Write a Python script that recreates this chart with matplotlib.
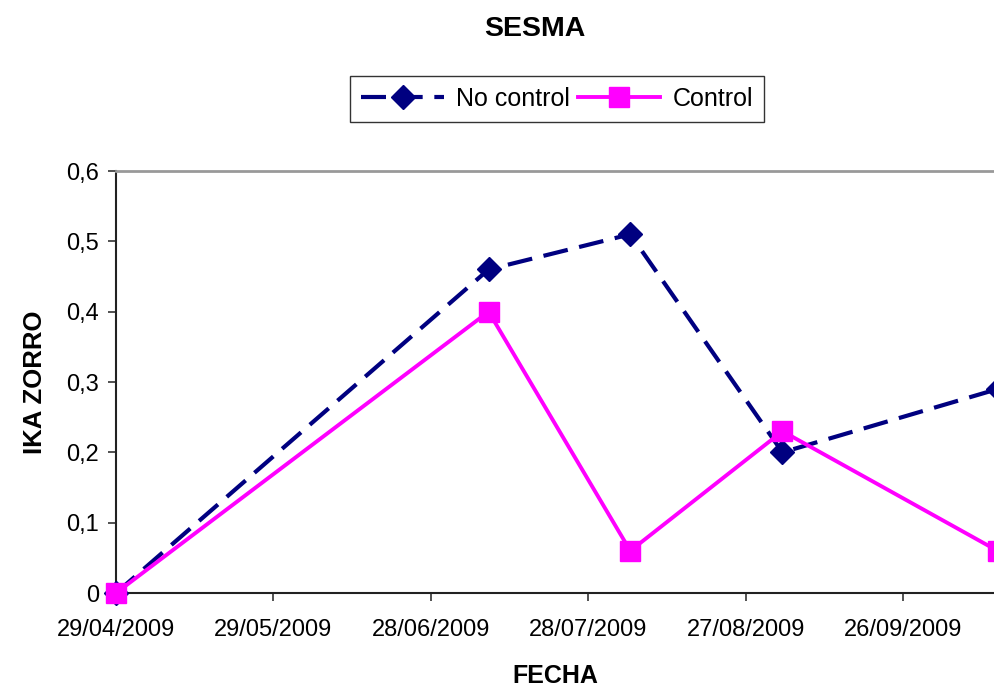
import matplotlib
matplotlib.use("Agg")
import matplotlib.pyplot as plt
from datetime import datetime, timedelta

plt.rcParams['font.family'] = ['Liberation Sans', 'DejaVu Sans']

# Survey dates and fox kilometric abundance index (IKA)
fechas = ["29/04/2009", "09/07/2009", "05/08/2009", "03/09/2009", "14/10/2009"]
no_control = [0.0, 0.46, 0.51, 0.20, 0.29]
control = [0.0, 0.40, 0.06, 0.23, 0.06]

tick_labels = ["29/04/2009", "29/05/2009", "28/06/2009",
               "28/07/2009", "27/08/2009", "26/09/2009"]
y_ticks = [0, 0.1, 0.2, 0.3, 0.4, 0.5, 0.6]
y_labels = ["0", "0,1", "0,2", "0,3", "0,4", "0,5", "0,6"]

dates = [datetime.strptime(d, "%d/%m/%Y") for d in fechas]
tick_dates = [datetime.strptime(d, "%d/%m/%Y") for d in tick_labels]

fig = plt.figure(figsize=(9.95, 6.89), dpi=100)
ax = fig.add_axes([0.1166, 0.1393, 0.8834, 0.6125])

ax.plot(dates, no_control, color="#000080", lw=3.0, dashes=(6, 2.8),
        marker="D", ms=12, mfc="#000080", mec="#000080", label="No control",
        zorder=3, clip_on=False)
ax.plot(dates, control, color="#FF00FF", lw=2.8,
        marker="s", ms=14, mfc="#FF00FF", mec="#FF00FF", label="Control",
        zorder=4, clip_on=False)

x0 = tick_dates[0]
ax.set_xlim(x0, x0 + timedelta(days=167.5))
ax.set_ylim(0, 0.6)
ax.set_xticks(tick_dates)
ax.set_xticklabels(tick_labels)
ax.set_yticks(y_ticks)
ax.set_yticklabels(y_labels)

ax.tick_params(axis="both", labelsize=17, direction="out", length=6,
               width=1.2, color="#333333")
ax.tick_params(axis="x", pad=13)
ax.tick_params(axis="y", pad=6)

for side in ("left", "bottom"):
    ax.spines[side].set_color("#222222")
    ax.spines[side].set_linewidth(1.5)
ax.spines["top"].set_color("#999999")
ax.spines["top"].set_linewidth(2.0)
ax.spines["right"].set_visible(False)

ax.set_xlabel("FECHA", fontsize=18, fontweight="bold", labelpad=16)
ax.set_ylabel("IKA ZORRO", fontsize=18.5, fontweight="bold", labelpad=14)

fig.text(0.538, 0.958, "SESMA", ha="center", va="center",
         fontsize=20.5, fontweight="bold")

leg = fig.legend(loc="center", bbox_to_anchor=(0.56, 0.856), ncol=2,
                 fontsize=18, frameon=True, fancybox=False, edgecolor="#000000",
                 handlelength=3.3, columnspacing=0.3, handletextpad=0.5,
                 borderpad=0.45, borderaxespad=0)
leg.get_frame().set_linewidth(1.0)

fig.savefig("out.png", dpi=100)
